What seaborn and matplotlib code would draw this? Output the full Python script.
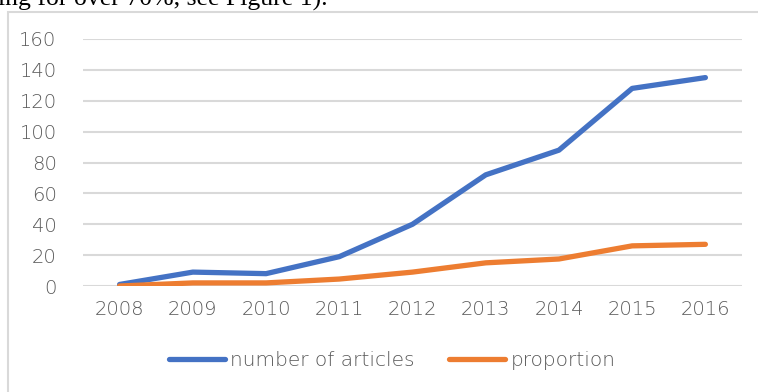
import matplotlib
matplotlib.use("Agg")
import matplotlib.pyplot as plt
import seaborn as sns
import pandas as pd
from matplotlib.patches import Rectangle
from matplotlib.lines import Line2D

years = ["2008", "2009", "2010", "2011", "2012", "2013", "2014", "2015", "2016"]
articles = [1, 9, 8, 19, 40, 72, 88, 128, 135]
proportion = [0, 2, 2, 4.5, 9, 15, 17.5, 26, 27]
series_names = ["number of articles", "proportion"]
yticks = [0, 20, 40, 60, 80, 100, 120, 140, 160]

df = pd.DataFrame({
    "year": years * 2,
    "value": articles + proportion,
    "series": [series_names[0]] * len(years) + [series_names[1]] * len(years),
})

sns.set_theme(style="white")
plt.rcParams["font.family"] = ["DejaVu Sans"]
plt.rcParams["font.weight"] = "light"

fig = plt.figure(figsize=(7.58, 3.92), dpi=100)
ax = fig.add_axes([83 / 758, (392 - 286) / 392, (742 - 83) / 758, (286 - 39) / 392])

palette = {series_names[0]: "#4472C4", series_names[1]: "#ED7D31"}
sns.lineplot(data=df, x="year", y="value", hue="series", palette=palette,
             linewidth=3.8, ax=ax, sort=False, legend=False,
             solid_capstyle="round", solid_joinstyle="round")

ax.set_xlim(-0.5, len(years) - 0.5)
ax.set_ylim(0, 160)
ax.set_yticks(yticks)
ax.set_xlabel("")
ax.set_ylabel("")
for y in yticks:
    ax.axhline(y, color="#D9D9D9", linewidth=1.5, zorder=0)
for s in ax.spines.values():
    s.set_visible(False)
ax.tick_params(axis="both", length=0, labelsize=14, labelcolor="#595959")
ax.tick_params(axis="y", pad=19)
ax.tick_params(axis="x", pad=10)

# legend
handles = [Line2D([0], [0], color=palette[n], lw=3.8, solid_capstyle="round") for n in series_names]
fig.legend(handles, series_names, loc="center", bbox_to_anchor=(392 / 758, (392 - 361) / 392),
           ncol=2, frameon=False, fontsize=14.5, handlelength=2.8, handletextpad=0.25,
           columnspacing=1.7, labelcolor="#595959")

# chart frame
fig.patches.append(Rectangle((8 / 758, -0.05), (757 - 8) / 758 + 0.01, (392 - 12) / 392 + 0.05,
                             transform=fig.transFigure, fill=False, edgecolor="#D9D9D9",
                             linewidth=1.5, zorder=-1))

# cropped caption text at top
fig.text(-2 / 758, 1 - 6 / 392, "ing for over 70%, see Figure 1).", family=["Liberation Serif"],
         fontsize=18.5, fontweight="normal", va="baseline", ha="left", color="black")

fig.savefig("out.png", dpi=100)
